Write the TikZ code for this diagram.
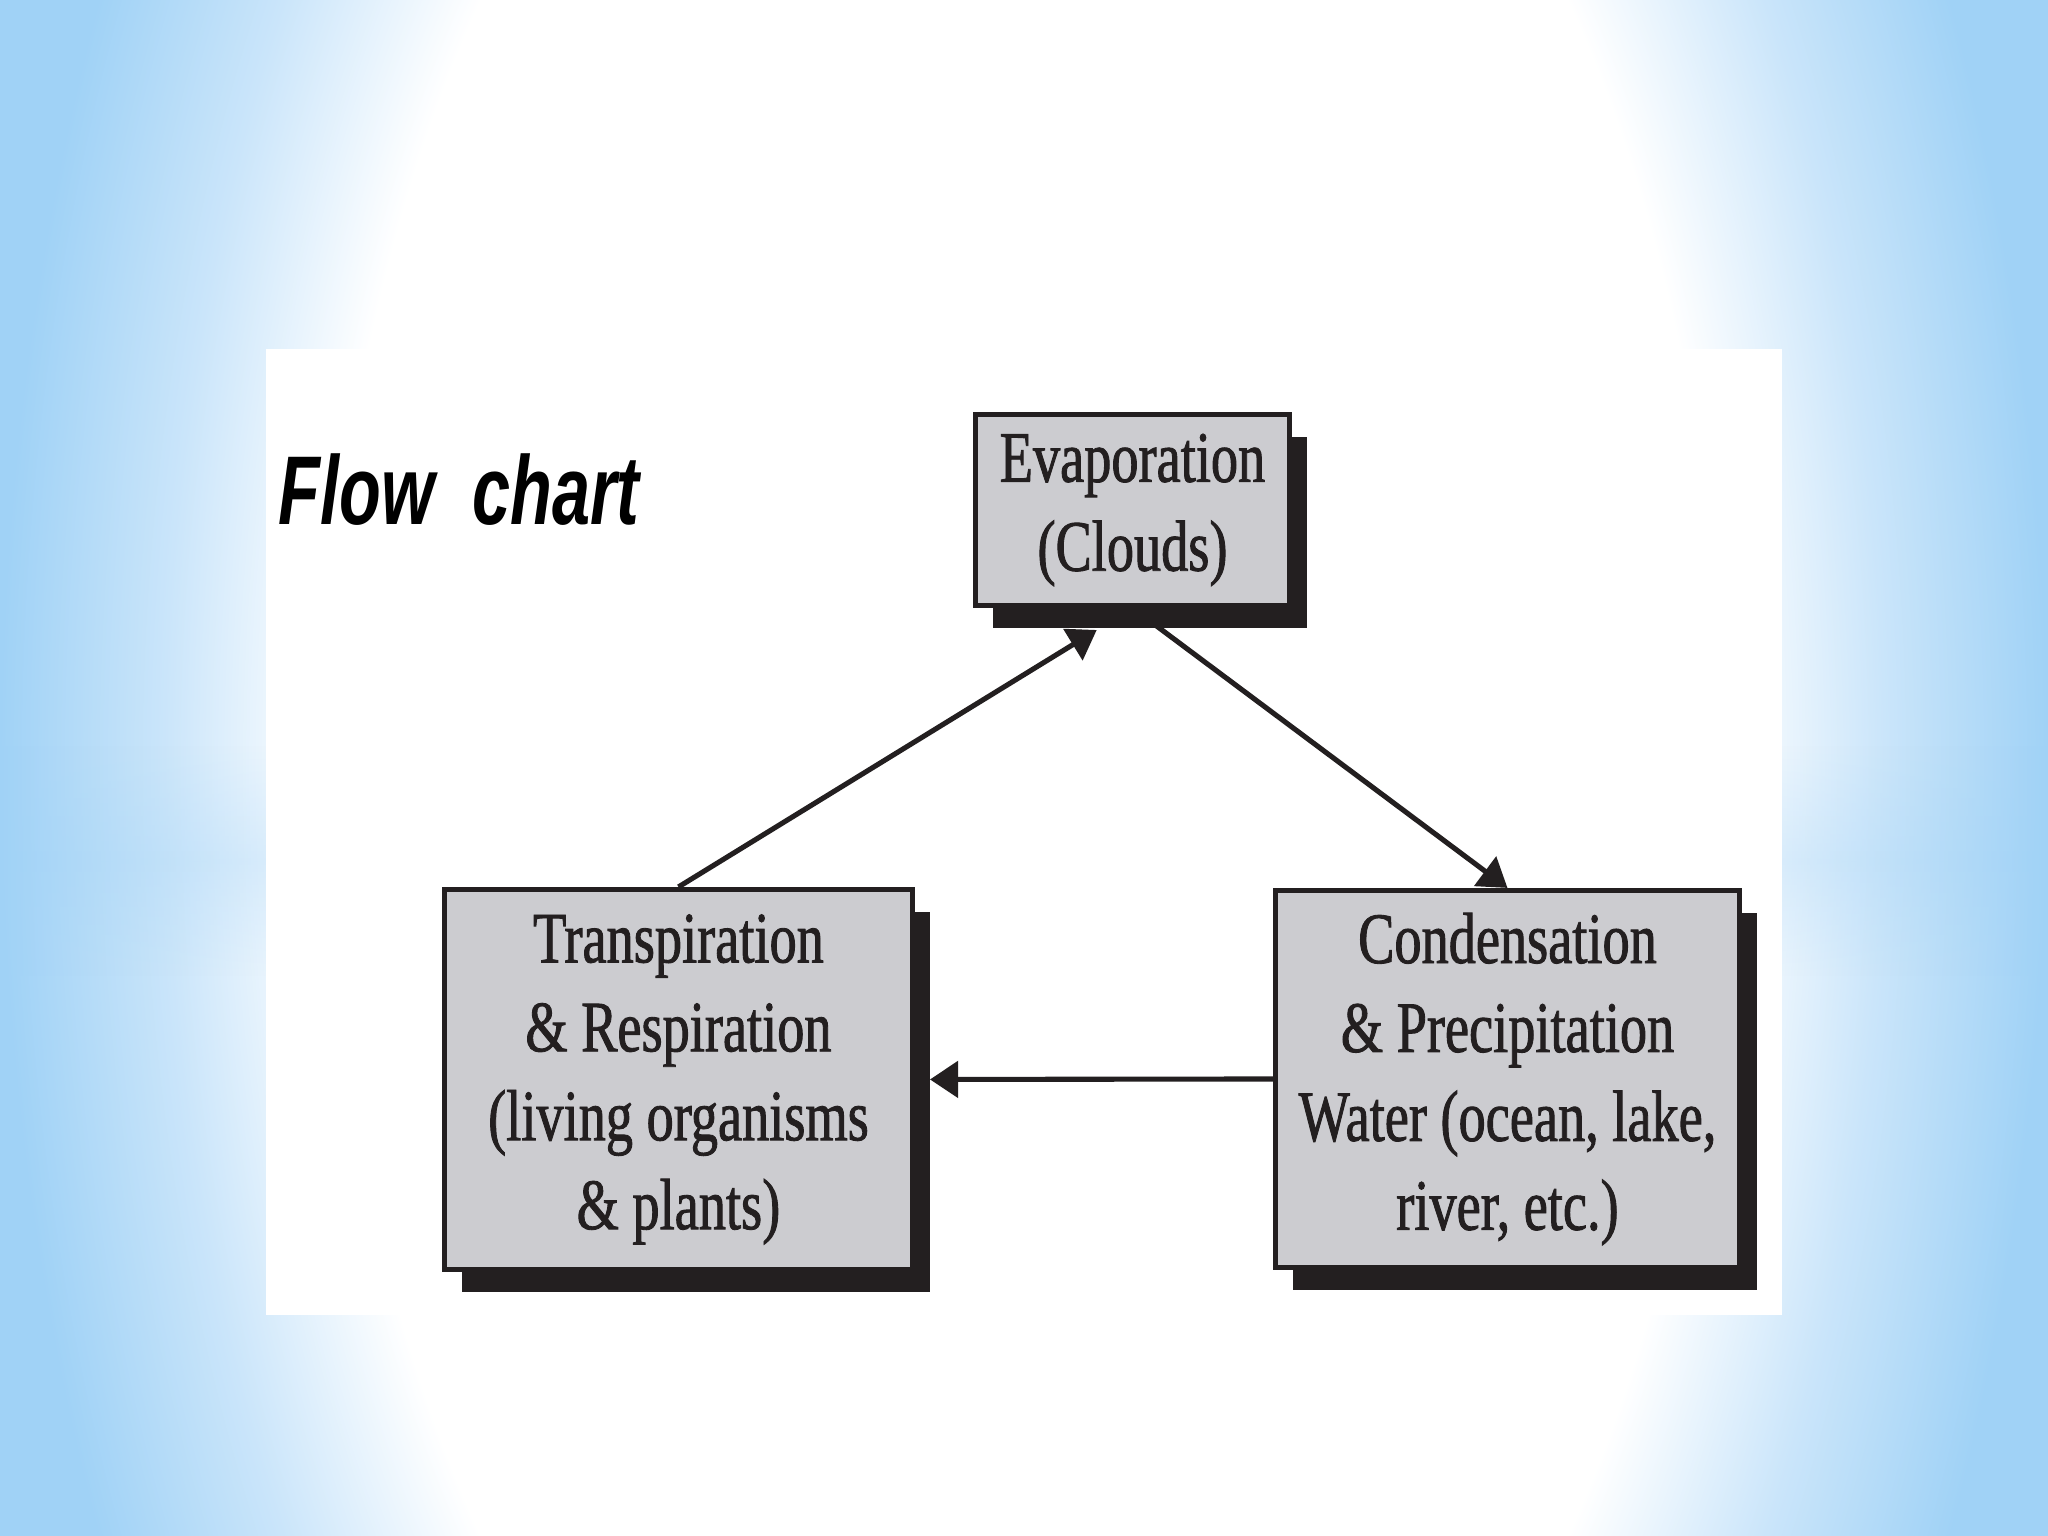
\documentclass[tikz,border=0pt]{standalone}
\usepackage{fontspec}
\usepackage{xcolor}
\usetikzlibrary{arrows.meta,shadows,fadings}

\newfontfamily\stagefont[FakeStretch=0.75,FakeBold=1.2]{Liberation Serif}
\newfontfamily\titlefont[FakeStretch=0.70]{Liberation Sans}

\definecolor{ink}{RGB}{35,31,32}
\definecolor{stagegray}{RGB}{204,204,208}
\definecolor{skyedge}{RGB}{160,210,246}
\definecolor{skymid}{RGB}{202,229,250}

\pgfdeclareradialshading{glow}{\pgfpoint{0bp}{0bp}}{color(0bp)=(white);
  color(17bp)=(white); color(21bp)=(skymid); color(25bp)=(skyedge);
  color(50bp)=(skyedge)}
\tikzfading[name=bandfade, top color=transparent!100,
  bottom color=transparent!100, middle color=transparent!45]

\begin{document}
\begin{tikzpicture}[
  stage/.style={rectangle, draw=ink, fill=stagegray, line width=1.45pt,
                inner sep=0pt, align=center, text=ink,
                font=\stagefont\fontsize{20.6}{25.3}\selectfont,
                drop shadow={shadow xshift=0.17cm, shadow yshift=-0.23cm,
                             fill=ink, opacity=1}},
  link/.style={line width=1.45pt, ink,
               -{Triangle[length=0.28cm, width=0.36cm]}}
]
  \useasboundingbox (0,0) rectangle (20.48,15.36);

  % sky backdrop and white sheet
  \begin{scope}
    \clip (0,0) rectangle (20.48,15.36);
    \fill[skyedge] (0,0) rectangle (20.48,15.36);
    \shade[shading=glow] (0,-10.32) rectangle (20.48,25.68);
    \shade[left color=skyedge, right color=skymid, path fading=bandfade]
      (0,5.6) rectangle (2.8,7.9);
    \shade[left color=skymid, right color=skyedge, path fading=bandfade]
      (17.7,5.6) rectangle (20.48,7.9);
  \end{scope}
  \fill[white] (2.66,2.21) rectangle (17.82,11.87);

  \node[anchor=base west, inner sep=0pt, text=black,
        font=\titlefont\bfseries\itshape\fontsize{27.8}{33}\selectfont]
    (title) at (2.78,10.11) {Flow\ \ chart};

  \node[stage, minimum width=3.14cm, minimum height=1.91cm]
    (evap) at (11.325,10.26) {Evaporation\\(Clouds)};
  \node[stage, minimum width=4.68cm, minimum height=3.80cm]
    (trans) at (6.785,4.565)
    {Transpiration\\\& Respiration\\(living organisms\\\& plants)};
  \node[stage, minimum width=4.64cm, minimum height=3.77cm]
    (cond) at (15.075,4.57)
    {Condensation\\\& Precipitation\\Water (ocean, lake,\\river, etc.)};

  \draw[link, shorten >=0.42cm] (trans.north) -- (evap.south);
  \draw[link] (evap.south) -- (cond.north);
  \draw[link, shorten >=0.15cm] (cond.west) -- (trans.east);
\end{tikzpicture}
\end{document}
